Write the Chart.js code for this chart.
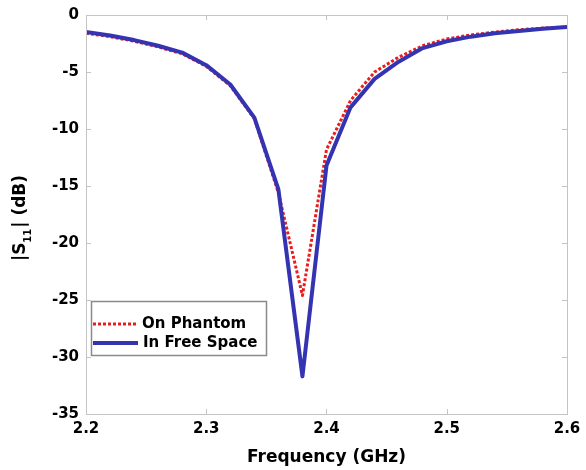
<!DOCTYPE html>
<html>
<head>
<meta charset="utf-8">
<script src="https://cdn.jsdelivr.net/npm/chart.js@4.4.0/dist/chart.umd.min.js"></script>
<style>
  html, body { margin: 0; padding: 0; background: #fff; }
  #wrap { width: 586px; height: 470px; }
</style>
</head>
<body>
<div id="wrap"><canvas id="myChart"></canvas></div>
<script>
// Datos
const freq = [2.20, 2.22, 2.24, 2.26, 2.28, 2.30, 2.32, 2.34, 2.36, 2.38, 2.40,
              2.42, 2.44, 2.46, 2.48, 2.50, 2.52, 2.54, 2.56, 2.58, 2.60];
const onPhantom = [-1.6, -1.9, -2.3, -2.8, -3.4, -4.5, -6.2, -9.1, -15.6, -24.6, -11.8,
                   -7.5, -5.0, -3.7, -2.7, -2.1, -1.75, -1.5, -1.3, -1.15, -1.05];
const freeSpace = [-1.5, -1.8, -2.2, -2.7, -3.3, -4.4, -6.1, -9.0, -15.3, -31.7, -13.2,
                   -8.1, -5.6, -4.1, -2.9, -2.3, -1.9, -1.6, -1.4, -1.2, -1.05];
const xTicks = [2.2, 2.3, 2.4, 2.5, 2.6];
const yTicks = [0, -5, -10, -15, -20, -25, -30, -35];

const RED = 'rgb(232, 30, 30)';
const BLUE = 'rgb(52, 52, 178)';
const FONT = 'bold 15px "DejaVu Sans"';

// Marco, marcas, etiquetas, títulos y leyenda
const decor = {
    id: 'decor',
    afterDraw(chart) {
        const c = chart.ctx;
        const a = chart.chartArea;
        const sx = chart.scales.x, sy = chart.scales.y;
        c.save();
        c.strokeStyle = '#c4c4c4';
        c.lineWidth = 1;
        c.strokeRect(a.left + 0.5, a.top + 0.5, a.right - a.left, a.bottom - a.top);
        c.beginPath();
        xTicks.forEach(v => {
            const px = Math.round(sx.getPixelForValue(v)) + 0.5;
            c.moveTo(px, a.bottom); c.lineTo(px, a.bottom - 5);
            c.moveTo(px, a.top); c.lineTo(px, a.top + 5);
        });
        yTicks.forEach(v => {
            const py = Math.round(sy.getPixelForValue(v)) + 0.5;
            c.moveTo(a.left, py); c.lineTo(a.left + 5, py);
            c.moveTo(a.right, py); c.lineTo(a.right - 5, py);
        });
        c.stroke();

        c.fillStyle = '#000';
        c.font = FONT;
        c.textAlign = 'center';
        c.textBaseline = 'top';
        xTicks.forEach(v => c.fillText(v.toFixed(1), sx.getPixelForValue(v), a.bottom + 8));
        c.textAlign = 'right';
        c.textBaseline = 'middle';
        yTicks.forEach(v => c.fillText(String(v), a.left - 7, sy.getPixelForValue(v)));

        // título eje x
        c.font = 'bold 17px "DejaVu Sans"';
        c.textAlign = 'center';
        c.textBaseline = 'middle';
        c.fillText('Frequency (GHz)', (a.left + a.right) / 2, a.bottom + 44);

        // título eje y con subíndice
        c.save();
        c.translate(21, 218);
        c.rotate(-Math.PI / 2);
        c.textAlign = 'left';
        c.textBaseline = 'middle';
        const big = 'bold 17px "DejaVu Sans"', small = 'bold 10px "DejaVu Sans"';
        c.font = big;
        const w1 = c.measureText('|S').width;
        const w3 = c.measureText('| (dB)').width;
        c.font = small;
        const w2 = c.measureText('11').width + 1;
        let x0 = -(w1 + w2 + w3) / 2;
        c.font = big; c.fillText('|S', x0, 0);
        c.font = small; c.fillText('11', x0 + w1, 7);
        c.font = big; c.fillText('| (dB)', x0 + w1 + w2, 0);
        c.restore();

        // leyenda
        const lx = a.left + 5, ly = a.bottom - 113;
        c.fillStyle = '#fff';
        c.fillRect(lx, ly, 175, 54);
        c.strokeStyle = '#8a8a8a';
        c.lineWidth = 1.5;
        c.strokeRect(lx + 0.5, ly + 0.5, 175, 54);
        c.lineWidth = 3;
        c.strokeStyle = RED;
        c.setLineDash([3, 2]);
        c.beginPath(); c.moveTo(lx + 2, ly + 23); c.lineTo(lx + 47, ly + 23); c.stroke();
        c.setLineDash([]);
        c.lineWidth = 4;
        c.strokeStyle = BLUE;
        c.beginPath(); c.moveTo(lx + 2, ly + 42); c.lineTo(lx + 47, ly + 42); c.stroke();
        c.fillStyle = '#000';
        c.font = FONT;
        c.textAlign = 'left';
        c.textBaseline = 'middle';
        c.fillText('On Phantom', lx + 51, ly + 23);
        c.fillText('In Free Space', lx + 52, ly + 42);
        c.restore();
    }
};

const ctx = document.getElementById('myChart').getContext('2d');
const myChart = new Chart(ctx, {
    type: 'line',
    data: {
        datasets: [{
            label: 'On Phantom',
            data: freq.map((f, i) => ({ x: f, y: onPhantom[i] })),
            borderColor: RED,
            borderWidth: 3,
            borderDash: [3, 2],
            borderJoinStyle: 'round',
            pointRadius: 0,
            tension: 0,
            order: 1
        }, {
            label: 'In Free Space',
            data: freq.map((f, i) => ({ x: f, y: freeSpace[i] })),
            borderColor: BLUE,
            borderWidth: 4,
            borderJoinStyle: 'round',
            pointRadius: 0,
            tension: 0,
            order: 0
        }]
    },
    options: {
        responsive: true,
        maintainAspectRatio: false,
        animation: false,
        layout: { padding: { top: 15, right: 19, left: 0, bottom: 0 } },
        scales: {
            x: {
                type: 'linear',
                min: 2.2,
                max: 2.6,
                ticks: { display: false, stepSize: 0.1 },
                grid: { display: false },
                border: { display: false },
                afterFit(scale) { scale.height = 56; }
            },
            y: {
                min: -35,
                max: 0,
                ticks: { display: false, stepSize: 5 },
                grid: { display: false },
                border: { display: false },
                afterFit(scale) { scale.width = 86; }
            }
        },
        plugins: {
            legend: { display: false },
            tooltip: { enabled: false }
        }
    },
    plugins: [decor]
});
</script>
</body>
</html>
